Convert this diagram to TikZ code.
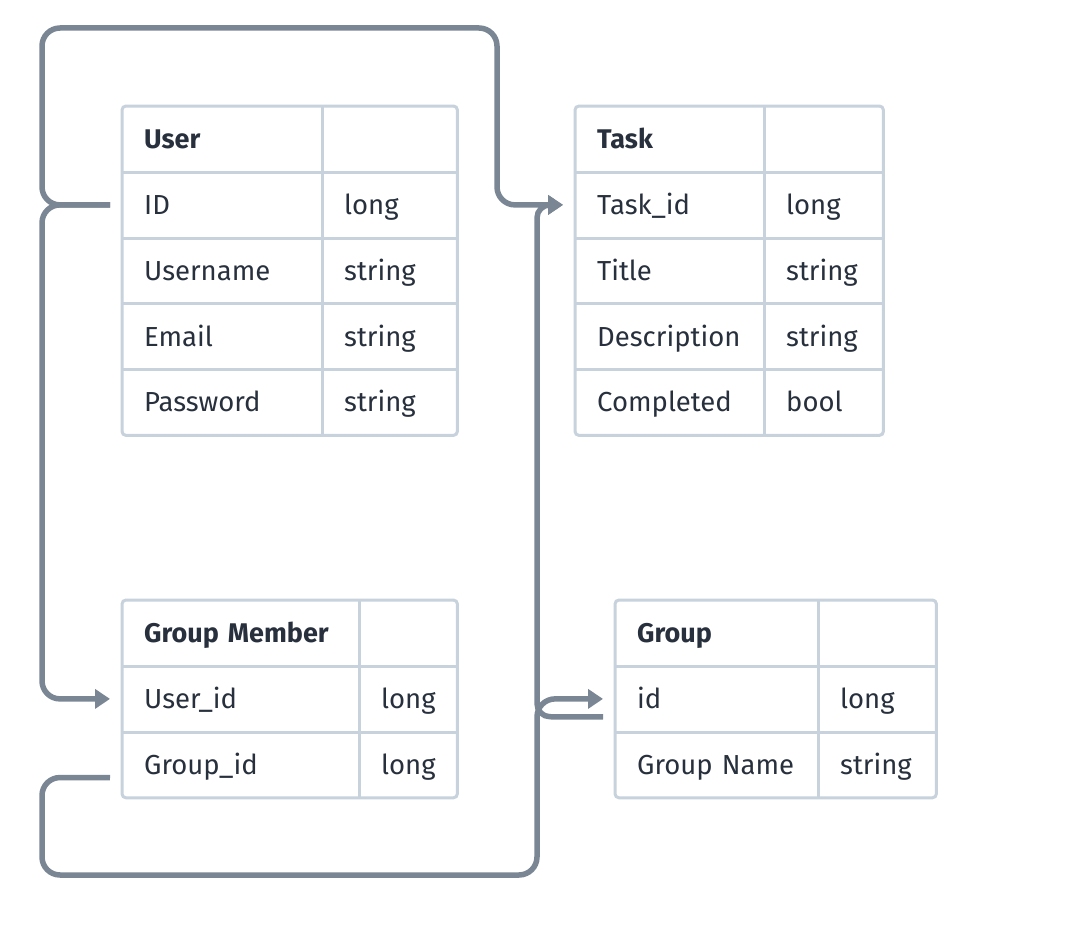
\documentclass[tikz,border=0pt]{standalone}
\usepackage{fontspec}
\setmainfont{Fira Sans}
\usetikzlibrary{arrows.meta}
\definecolor{connC}{HTML}{7A8694}
\definecolor{borderC}{HTML}{C8D2DC}
\definecolor{textC}{HTML}{27303C}
\tikzset{
  cell/.style={inner xsep=22pt, inner ysep=0pt, text width=#1, align=left,
    minimum height=65.8pt, anchor=north west, text height=19pt, text depth=0pt,
    font=\fontsize{27.5}{32}\selectfont, text=textC},
  hdr/.style={font=\fontsize{27}{32}\selectfont\bfseries},
  grid/.style={draw=borderC, line width=3pt},
  conn/.style={draw=connC, line width=5.5pt, rounded corners=18pt},
  tip/.style={-{Triangle[length=15pt,width=19pt]}}
}
\begin{document}
\begin{tikzpicture}[x=1pt,y=-1pt]
\useasboundingbox (0,0) rectangle (1068,934);
\fill[white] (0,0) rectangle (1068,934);

% ---------- User ----------
\node[cell=156pt,hdr] (u0) at (122,106) {User};
\node[cell=91pt] (u0t) at (322,106) {};
\node[cell=156pt] (u1) at (122,171.8) {ID};
\node[cell=91pt] (u1t) at (322,171.8) {long};
\node[cell=156pt] (u2) at (122,237.6) {Username};
\node[cell=91pt] (u2t) at (322,237.6) {string};
\node[cell=156pt] (u3) at (122,303.4) {Email};
\node[cell=91pt] (u3t) at (322,303.4) {string};
\node[cell=156pt] (u4) at (122,369.2) {Password};
\node[cell=91pt] (u4t) at (322,369.2) {string};
\draw[grid, rounded corners=4pt] (u0.north west) rectangle (u4t.south east);
\draw[grid] (u0.north east) -- (u4.south east);
\foreach \r in {u0,u1,u2,u3} \draw[grid] (\r.south west) -- (\r t.south east);

% ---------- Task ----------
\node[cell=145pt,hdr] (t0) at (575,106) {Task};
\node[cell=75pt] (t0t) at (764,106) {};
\node[cell=145pt] (t1) at (575,171.8) {Task\_id};
\node[cell=75pt] (t1t) at (764,171.8) {long};
\node[cell=145pt] (t2) at (575,237.6) {Title};
\node[cell=75pt] (t2t) at (764,237.6) {string};
\node[cell=145pt] (t3) at (575,303.4) {Description};
\node[cell=75pt] (t3t) at (764,303.4) {string};
\node[cell=145pt] (t4) at (575,369.2) {Completed};
\node[cell=75pt] (t4t) at (764,369.2) {bool};
\draw[grid, rounded corners=4pt] (t0.north west) rectangle (t4t.south east);
\draw[grid] (t0.north east) -- (t4.south east);
\foreach \r in {t0,t1,t2,t3} \draw[grid] (\r.south west) -- (\r t.south east);

% ---------- Group Member ----------
\node[cell=193pt,hdr] (m0) at (122,600) {\mbox{Group Member}};
\node[cell=54pt] (m0t) at (359,600) {};
\node[cell=193pt] (m1) at (122,665.8) {User\_id};
\node[cell=54pt] (m1t) at (359,665.8) {long};
\node[cell=193pt] (m2) at (122,731.6) {Group\_id};
\node[cell=54pt] (m2t) at (359,731.6) {long};
\draw[grid, rounded corners=4pt] (m0.north west) rectangle (m2t.south east);
\draw[grid] (m0.north east) -- (m2.south east);
\foreach \r in {m0,m1} \draw[grid] (\r.south west) -- (\r t.south east);

% ---------- Group ----------
\node[cell=159pt,hdr] (g0) at (615,600) {Group};
\node[cell=74pt] (g0t) at (818,600) {};
\node[cell=159pt] (g1) at (615,665.8) {id};
\node[cell=74pt] (g1t) at (818,665.8) {long};
\node[cell=159pt] (g2) at (615,731.6) {\mbox{Group Name}};
\node[cell=74pt] (g2t) at (818,731.6) {string};
\draw[grid, rounded corners=4pt] (g0.north west) rectangle (g2t.south east);
\draw[grid] (g0.north east) -- (g2.south east);
\foreach \r in {g0,g1} \draw[grid] (\r.south west) -- (\r t.south east);

% ---------- connectors ----------
% User.ID -> Task.Task_id (over the top)
\draw[conn,tip] ([xshift=-12pt]u1.west) -- (42,0 |- u1.west) -- (42,28) -- (497,28)
   -- (497,0 |- t1.west) -- ([xshift=-12pt]t1.west);
% User.ID -> GroupMember.User_id
\draw[conn,tip] ([xshift=-12pt]u1.west) -- (42,0 |- u1.west) -- (42,0 |- m1.west)
   -- ([xshift=-12pt]m1.west);
% GroupMember.Group_id -> Group.id
\draw[conn,tip] ([xshift=-12pt,yshift=-13pt]m2.west) -- (42,777.5) -- (42,875) -- (537,875)
   -- (537,0 |- g1.west) -- ([xshift=-12pt]g1.west);
% Group.id -> Task.Task_id
\draw[conn,tip,rounded corners=13pt] ([xshift=-12pt,yshift=-18pt]g1.west) -- (537,716.7)
   -- (537,0 |- t1.west) -- ([xshift=-12pt]t1.west);
\end{tikzpicture}
\end{document}
